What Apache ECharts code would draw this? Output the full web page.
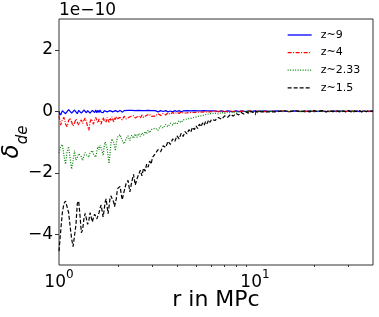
<!DOCTYPE html>
<html><head><meta charset="utf-8">
<script src="https://cdn.jsdelivr.net/npm/echarts@6/dist/echarts.min.js"></script>
<style>html,body{margin:0;padding:0;background:#fff}#c{width:379px;height:317px}</style>
</head><body><div id="c"></div>
<script>
// r in MPc (shared sample positions)
const r = [
1.00,1.02,1.04,1.06,1.08,1.10,1.12,1.14,1.16,1.18,
1.20,1.22,1.24,1.26,1.28,1.30,1.32,1.34,1.36,1.38,
1.40,1.42,1.44,1.46,1.48,1.50,1.52,1.54,1.56,1.58,
1.60,1.62,1.64,1.66,1.68,1.70,1.72,1.74,1.76,1.78,
1.80,1.82,1.84,1.86,1.88,1.90,1.92,1.94,1.96,1.98,
2.00,
2.05,2.10,2.15,2.20,2.25,2.30,2.35,2.40,2.45,2.50,
2.55,2.60,2.65,2.70,2.75,2.80,2.85,2.90,2.95,3.00,
3.1,3.2,3.3,3.4,3.5,3.6,3.7,3.8,3.9,4.0,
4.1,4.2,4.3,4.4,4.5,4.6,4.7,4.8,4.9,5.0,
5.1,5.2,5.3,5.4,5.5,5.6,5.7,5.8,5.9,6.0,
6.25,6.5,6.75,7.0,7.25,7.5,7.75,8.0,8.25,8.5,
8.75,9.0,9.25,9.5,9.75,10.0,10.25,10.5,10.75,11.0,
11.25,11.5,11.75,12.0,
13,14,15,16,17,18,19,20,21,22,
23,24,25,26,27,28,29,30,31,32,
33,34,35,36,37,38,39,40
];
// delta_de values, in units of 1e-10
const z9 = [
-0.03,-0.12,0.02,0.06,-0.08,-0.1,0.05,0.07,-0.06,-0.1,
0.04,0.06,-0.08,0.03,0.07,-0.06,-0.09,0.04,0.06,-0.05,
0.02,0.07,-0.06,-0.08,0.03,0.05,-0.04,0.04,-0.05,0.03,
-0.04,0.04,-0.03,0.03,-0.05,0.02,-0.03,0.04,-0.02,0.03,
-0.04,0.02,-0.03,0.03,-0.02,0.03,-0.03,0.02,-0.03,0.02,
-0.02,
0.03,-0.03,0.02,-0.04,0.03,-0.02,0.03,-0.03,0.02,-0.03,
0.03,-0.02,0.02,-0.03,0.02,-0.02,0.03,-0.02,0.02,-0.02,
0.02,-0.02,0.02,-0.01,0.02,-0.02,0.01,-0.02,0.02,-0.01,
0.02,-0.02,0.01,-0.01,0.02,-0.02,0.01,-0.01,0.02,-0.01,
0.01,-0.02,0.01,-0.01,0.02,-0.01,0.01,-0.01,0.01,-0.01,
0.01,-0.01,0.01,-0.01,0.01,0.0,-0.01,0.01,-0.01,0.01,
0.0,-0.01,0.01,-0.01,0.0,0.01,-0.01,0.01,0.0,-0.01,
0.01,-0.01,0.0,0.01,
0.01,0.0,-0.01,0.01,0.0,-0.01,0.01,-0.01,0.0,0.01,
-0.01,0.0,0.01,-0.01,0.01,0.0,-0.01,0.01,0.0,-0.01,
0.01,-0.01,0.0,0.01,-0.01,0.0,0.01,0.0
];
const z4 = [
-0.15,-0.45,-0.28,-0.2,-0.42,-0.5,-0.3,-0.22,-0.35,-0.48,
-0.38,-0.25,-0.3,-0.45,-0.35,-0.28,-0.4,-0.3,-0.22,-0.35,
-0.5,-0.62,-0.35,-0.25,-0.33,-0.42,-0.28,-0.2,-0.3,-0.38,
-0.25,-0.3,-0.42,-0.28,-0.2,-0.32,-0.25,-0.35,-0.2,-0.28,
-0.36,-0.22,-0.3,-0.18,-0.26,-0.34,-0.2,-0.27,-0.17,-0.25,
-0.3,
-0.2,-0.28,-0.16,-0.25,-0.3,-0.18,-0.24,-0.14,-0.22,-0.27,
-0.15,-0.22,-0.12,-0.2,-0.25,-0.13,-0.19,-0.1,-0.17,-0.12,
-0.16,-0.08,-0.14,-0.07,-0.12,-0.05,-0.1,-0.04,-0.08,-0.03,
-0.07,-0.02,-0.06,-0.02,-0.05,-0.01,-0.04,-0.01,-0.04,0.0,
-0.03,0.0,-0.03,0.01,-0.02,0.0,-0.02,0.01,-0.02,0.0,
0.01,-0.01,0.01,-0.01,0.0,0.01,-0.01,0.01,0.0,-0.01,
0.01,-0.01,0.0,0.01,-0.01,0.01,0.0,-0.01,0.01,0.0,
-0.01,0.01,0.0,-0.01,
0.0,0.01,-0.01,0.0,0.01,-0.01,0.01,0.0,-0.01,0.01,
0.0,-0.01,0.01,0.0,-0.01,0.01,-0.01,0.0,0.01,-0.01,
0.0,0.01,-0.01,0.0,0.01,-0.01,0.0,0.01
];
const z233 = [
-1.35,-1.15,-1.08,-1.45,-1.72,-1.3,-1.15,-1.55,-1.88,-1.6,
-1.28,-1.58,-1.5,-1.38,-1.33,-1.48,-1.6,-1.45,-1.35,-1.42,
-1.39,-1.5,-1.35,-1.3,-1.28,-1.4,-1.45,-1.49,-1.3,-1.15,
-1.25,-1.1,-1.06,-1.3,-1.44,-1.15,-1.0,-0.95,-1.2,-1.45,
-1.7,-1.4,-1.05,-0.9,-0.84,-1.0,-1.15,-1.28,-1.05,-0.9,
-0.82,
-0.76,-0.95,-1.06,-0.9,-0.8,-0.95,-0.78,-0.88,-0.74,-0.85,
-0.72,-0.82,-0.7,-0.78,-0.66,-0.74,-0.62,-0.7,-0.6,-0.66,
-0.55,-0.62,-0.48,-0.55,-0.43,-0.5,-0.39,-0.45,-0.36,-0.42,
-0.31,-0.37,-0.28,-0.34,-0.25,-0.31,-0.23,-0.28,-0.2,-0.25,
-0.17,-0.22,-0.15,-0.19,-0.12,-0.16,-0.1,-0.13,-0.08,-0.11,
-0.06,-0.09,-0.04,-0.07,-0.03,-0.05,-0.02,-0.04,-0.01,-0.03,
0.0,-0.02,0.01,-0.02,0.01,-0.01,0.01,-0.01,0.01,-0.01,
0.01,-0.01,0.0,-0.01,
0.01,-0.01,0.0,0.01,-0.01,0.01,0.0,-0.01,0.01,-0.01,
0.0,0.01,-0.01,0.01,0.0,-0.01,0.01,-0.01,0.0,0.01,
-0.01,0.01,0.0,-0.01,0.01,-0.01,0.0,0.01
];
const z15 = [
-4.55,-3.9,-3.3,-3.0,-2.92,-2.98,-3.3,-3.75,-4.15,-4.4,
-4.45,-3.7,-3.0,-2.92,-3.4,-3.95,-3.85,-3.5,-3.32,-3.5,
-3.68,-3.55,-3.3,-3.28,-3.6,-3.45,-3.35,-3.33,-3.5,-3.55,
-3.3,-3.15,-3.05,-3.1,-3.44,-3.2,-2.95,-2.85,-3.1,-3.33,
-3.1,-2.85,-2.75,-2.7,-2.75,-2.95,-3.1,-3.15,-2.85,-2.6,
-2.5,
-2.45,-2.88,-2.6,-2.35,-2.25,-2.62,-2.3,-2.05,-2.4,-2.2,
-2.05,-1.92,-2.1,-1.85,-1.95,-1.72,-1.82,-1.62,-1.72,-1.5,
-1.38,-1.25,-1.32,-1.12,-1.18,-0.98,-1.08,-0.9,-0.98,-0.8,
-0.9,-0.72,-0.82,-0.66,-0.74,-0.6,-0.68,-0.52,-0.6,-0.47,
-0.56,-0.42,-0.5,-0.38,-0.46,-0.33,-0.4,-0.29,-0.36,-0.26,
-0.3,-0.2,-0.26,-0.15,-0.2,-0.1,-0.16,-0.07,-0.12,-0.04,
-0.09,-0.02,-0.06,0.01,-0.04,0.02,-0.03,0.02,-0.02,0.02,
-0.02,0.01,-0.02,0.01,
-0.02,0.02,-0.01,0.02,-0.02,0.01,-0.02,0.02,-0.01,0.02,
-0.02,0.01,-0.01,0.02,-0.02,0.01,-0.01,0.02,-0.02,0.01,
-0.01,0.02,-0.02,0.01,-0.01,0.02,-0.01,0.01
];
const seriesNames = ['z~9','z~4','z~2.33','z~1.5'];
const seriesColors = ['#0000ff','#ff0000','#008000','#000000'];
const yTicks = [-4,-2,0,2];
const xTicks = [1,10];
const xMinorTicks = [2,3,4,5,6,7,8,9,20,30];

const FONT = 'DejaVu Sans';
const AX = '#333333';
function pairs(v){ return r.map((x,i)=>[x, v[i]]); }
const dashes = ['solid', [4,1.5,1,1.5], [1,1.5], [4,2]];
const vals = [z9, z4, z233, z15];

const chart = echarts.init(document.getElementById('c'), null, {renderer:'canvas'});
chart.setOption({
  animation:false,
  backgroundColor:'#ffffff',
  grid:{left:59, top:19, right:6, bottom:52, containLabel:false, outerBoundsMode:'none',
        show:true, borderColor:AX, borderWidth:1, backgroundColor:'transparent'},
  xAxis:[{
    type:'log', logBase:10, min:1, max:40, position:'bottom',
    axisLine:{show:false}, splitLine:{show:false},
    axisTick:{show:true, length:4, customValues:xTicks, lineStyle:{color:AX, width:1}},
    axisLabel:{customValues:xTicks, margin:4,
      formatter:v=>'{b|10}{s|'+Math.round(Math.log10(v))+'}',
      rich:{b:{fontSize:17, fontFamily:FONT, color:'#000', lineHeight:22, verticalAlign:'bottom'},
            s:{fontSize:12, fontFamily:FONT, color:'#000', lineHeight:14, verticalAlign:'top'}}}
  },{
    type:'log', logBase:10, min:1, max:40, position:'bottom',
    axisLine:{show:false}, splitLine:{show:false}, axisLabel:{show:false},
    axisTick:{show:true, length:2, customValues:xMinorTicks, lineStyle:{color:AX, width:1}}
  }],
  yAxis:{
    type:'value', min:-5, max:3,
    name:'{d|\u03b4}{s|de}', nameLocation:'middle', nameRotate:90, nameGap:28, nameMoveOverlap:false,
    nameTextStyle:{rich:{
      d:{fontSize:23, fontFamily:FONT, fontStyle:'italic', color:'#000', lineHeight:30, verticalAlign:'top'},
      s:{fontSize:15, fontFamily:FONT, fontStyle:'italic', color:'#000', lineHeight:15, verticalAlign:'bottom'}}},
    axisLine:{show:false}, splitLine:{show:false},
    axisTick:{show:true, length:4, customValues:yTicks, lineStyle:{color:AX, width:1}},
    axisLabel:{customValues:yTicks, margin:6, fontSize:17, fontFamily:FONT, color:'#000',
      formatter:v=> v<0 ? '\u2212'+(-v) : String(v)}
  },
  legend:{
    orient:'vertical', left:287, top:29.5, padding:0, itemWidth:24, itemHeight:11, itemGap:6.6,
    data:seriesNames,
    itemStyle:{opacity:0},
    lineStyle:{width:1.3},
    textStyle:{fontSize:11, fontFamily:FONT, color:'#000', padding:[0,0,0,4]}
  },
  graphic:[
    {type:'text', left:59, top:2, style:{text:'1e\u221210', font:'17px "DejaVu Sans"', fill:'#000'}},
    {type:'text', x:216, y:300, style:{text:'r in MPc', font:'22px "DejaVu Sans"', fill:'#000', align:'center', verticalAlign:'middle'}}
  ],
  series: seriesNames.map((n,i)=>({
    name:n, type:'line', xAxisIndex:0, data:pairs(vals[i]), symbol:'none', showSymbol:false,
    lineStyle:{color:seriesColors[i], width:1.2, type:dashes[i]},
    itemStyle:{color:seriesColors[i]}, z:2+i
  }))
});
</script></body></html>
